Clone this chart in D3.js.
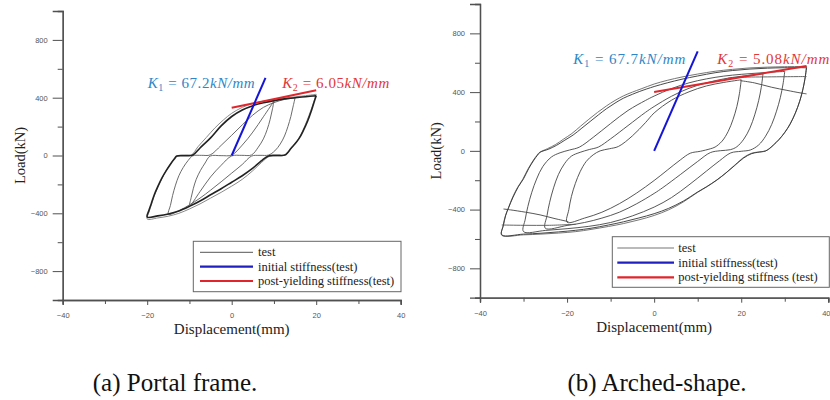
<!DOCTYPE html>
<html><head><meta charset="utf-8">
<script src="https://cdn.jsdelivr.net/npm/d3@7"></script>
<style>html,body{margin:0;padding:0;background:#fff;}svg{display:block;}</style>
</head><body>
<svg id="c" width="830" height="400"></svg>
<script>
// ---------- data ----------
const xTickValues = [-40, -20, 0, 20, 40];
const xMinorValues = [-30, -10, 10, 30];
const yTickValues = [-800, -400, 0, 400, 800];
const yMinorValues = [-1000, -600, -200, 200, 600, 1000];
const xLabel = "Displacement(mm)";
const yLabel = "Load(kN)";
const legendPortal = ["test", "initial stiffness(test)", "post-yielding stiffness(test)"];
const legendArched = ["test", "initial stiffness(test)", "post-yielding stiffness (test)"];
const captions = ["(a) Portal frame.", "(b) Arched-shape."];
const portalK = ["67.2", "6.05"];
const archedK = ["67.7", "5.08"];

// Portal frame hysteresis cycles [displacement mm, load kN]
const portalCycle20a = [[20,414],[19.4,360],[18.8,305],[18,240],[17,175],[16,120],[15,82],[14,48],[13.2,18],[12.6,3],[10.6,1],[8.7,-3],[7,-38],[5,-88],[2.5,-140],[0,-185],[-2.5,-230],[-5,-272],[-7.5,-315],[-10,-352],[-12.5,-384],[-15,-405],[-17.5,-418],[-20,-426],[-19.6,-380],[-19,-330],[-18.3,-270],[-17.5,-215],[-16.5,-155],[-15.5,-105],[-14.5,-60],[-13.6,-25],[-13,-4],[-11,-1],[-9.2,3],[-7.5,52],[-5,122],[-2.5,205],[0,270],[2.5,315],[5,345],[7.5,365],[10,380],[12.5,392],[15,400],[17.5,407],[20,414]];
const portalCycle20b = [[20,424],[19.4,368],[18.7,310],[17.8,240],[16.8,170],[15.8,115],[14.8,75],[13.8,40],[13,12],[12.3,0],[10.4,-2],[8.9,-6],[7,-50],[5,-105],[2.5,-165],[0,-212],[-2.5,-255],[-5,-295],[-7.5,-335],[-10,-370],[-12.5,-400],[-15,-420],[-17.5,-432],[-20,-440],[-19.5,-385],[-18.8,-320],[-18,-255],[-17,-190],[-16,-130],[-15,-80],[-14,-40],[-13.2,-12],[-12.6,-2],[-10.8,1],[-9.5,4],[-8,60],[-6,125],[-4,190],[-2,245],[0,292],[2.5,333],[5,360],[7.5,376],[10,388],[12.5,398],[15,406],[17.5,414],[20,424]];
const portalCycle15 = [[15,398],[14.5,335],[14,270],[13.3,200],[12.5,135],[11.5,80],[10.2,32],[8.7,3],[6.7,1],[4.7,-4],[2.5,-62],[0,-122],[-2.5,-182],[-5,-240],[-7.5,-295],[-10,-342],[-12.5,-382],[-15,-408],[-14.5,-345],[-14,-278],[-13.3,-205],[-12.5,-140],[-11.5,-84],[-10.3,-34],[-9.2,-2],[-7.1,1],[-5.1,4],[-2.5,70],[0,140],[2.5,212],[5,280],[7.5,333],[10,366],[12.5,388],[15,398]];
const portalCycle10 = [[10,376],[9.6,315],[9.1,250],[8.4,180],[7.5,115],[6.3,58],[4.7,4],[2.4,1],[0,-3],[-2.5,-68],[-5,-148],[-7.5,-250],[-10,-352],[-9.6,-292],[-9.1,-230],[-8.4,-165],[-7.4,-104],[-6.3,-52],[-5.1,-4],[-2.5,-1],[0,3],[2.5,72],[5,162],[7.5,268],[10,376]];
const portalK1 = [[0,0],[8,537.6]];
const portalK2 = [[0,330],[20,451]];

// Arched-shape hysteresis cycles
const archCycle35a = [[35,566],[34.6,485],[34.1,410],[33.4,335],[32.4,255],[31.2,180],[30,125],[28.6,75],[27.4,40],[26.3,12],[25.5,-2],[23.8,-10],[22.3,-20],[20.5,-50],[18.5,-100],[16.5,-150],[14.4,-198],[12,-245],[10,-280],[6.7,-342],[3.3,-392],[0,-428],[-3.5,-457],[-7,-483],[-10.5,-505],[-14.5,-527],[-18,-541],[-22,-552],[-26,-561],[-30,-567],[-35,-572],[-34.6,-505],[-34.1,-440],[-33.4,-385],[-32.4,-315],[-31.2,-245],[-30,-190],[-28.8,-120],[-27.6,-62],[-26.8,-30],[-26.2,-10],[-24.2,12],[-22.4,38],[-20.5,73],[-18.6,108],[-16.6,155],[-14.7,200],[-12.8,245],[-10.9,288],[-9,325],[-7.1,358],[-5,385],[-3.3,405],[0,438],[3,463],[6.4,488],[10,510],[14,532],[18,547],[22,557],[26,563],[30,566],[35,566]];
const archCycle35b = [[35,575],[34.7,500],[34.2,425],[33.5,345],[32.5,262],[31.3,188],[30.1,130],[28.8,80],[27.6,45],[26.5,15],[25.6,0],[24,-8],[22.5,-15],[20.7,-42],[18.7,-92],[16.7,-145],[14.6,-195],[12.2,-243],[10,-282],[6.7,-348],[3.3,-402],[0,-440],[-3.5,-470],[-7,-495],[-10.5,-515],[-14.5,-535],[-18,-550],[-22,-560],[-26,-567],[-30,-572],[-35,-575],[-34.7,-510],[-34.2,-445],[-33.5,-390],[-32.6,-322],[-31.4,-250],[-30.2,-195],[-29,-125],[-27.8,-66],[-27,-33],[-26.4,-12],[-24.5,15],[-22.7,42],[-20.8,80],[-18.9,118],[-16.9,168],[-15,215],[-13,262],[-11,305],[-9,343],[-7,375],[-5,400],[-3,422],[0,455],[3,480],[6.4,503],[10,523],[14,542],[18,555],[22,565],[26,570],[30,573],[35,575]];
const archCycle30 = [[30,541],[29.6,455],[29,365],[28.1,270],[27,180],[25.6,100],[24,40],[22.1,6],[20,-3],[17.6,-14],[15,-68],[12,-138],[8,-232],[4,-318],[0,-383],[-5,-443],[-10,-488],[-15,-514],[-20,-530],[-25,-542],[-30,-550],[-29.6,-465],[-29,-378],[-28.1,-282],[-27,-192],[-25.6,-108],[-23.6,-42],[-21.6,-13],[-19.4,6],[-17.2,25],[-14,92],[-10,186],[-6,275],[-2,343],[0,373],[4,424],[8,463],[12,490],[16,509],[20,521],[25,532],[30,541]];
const archCycle25 = [[25,525],[24.6,432],[24,342],[23.1,245],[22,155],[20.6,80],[19,28],[17.5,8],[15.2,1],[12.9,-12],[10,-72],[6,-162],[2,-250],[0,-290],[-4,-360],[-8,-418],[-12,-458],[-16,-488],[-20,-508],[-25,-527],[-24.6,-440],[-24,-350],[-23.1,-252],[-22,-162],[-20.6,-88],[-19,-36],[-17,-10],[-14.9,9],[-12.8,26],[-10,82],[-6,172],[-2,262],[0,302],[4,372],[8,426],[12,463],[16,490],[20,508],[25,525]];
const archCycle20 = [[20,484],[19.6,392],[19,302],[18.1,212],[17,132],[15.6,66],[14,26],[12.9,14],[10.6,-3],[8.3,-16],[6,-62],[3,-132],[0,-202],[-4,-287],[-8,-360],[-12,-418],[-16,-458],[-20,-486],[-19.6,-400],[-19,-310],[-18.1,-222],[-17,-142],[-15.6,-72],[-14,-27],[-12.4,0],[-10.3,14],[-8.2,30],[-5,102],[-2,192],[0,258],[4,345],[8,402],[12,442],[16,466],[20,484]];
const archTopDrop = [[19.8,478],[23,463],[27,433],[30.5,412],[33.5,395],[35,388]];
const archBottomDrop = [[-19.7,-482],[-23,-460],[-26.2,-436],[-29.5,-418],[-33,-402],[-34.6,-396]];
const archTopFlat = [[17,495],[20,501],[27,504],[35,506]];
const archBottomFlat = [[-18,-500],[-24,-507],[-30,-507],[-35,-505]];
const archK1 = [[0,0],[10,677]];
const archK2 = [[0,400],[35,578]];

// ---------- drawing ----------
const SERIF = "'Liberation Serif', 'Times New Roman', serif";
const SANS = "'Liberation Sans', Arial, sans-serif";
const svg = d3.select("#c");
svg.append("rect").attr("width", 830).attr("height", 400).attr("fill", "#fff");

const axisColor = "#505050";
const testColor = "#4a4a4a";
const blue = "#1515d8";
const red = "#e0262c";
const annBlue = "#2f86c6";
const annRed = "#e2363a";

function drawPanel(p) {
  const g = svg.append("g");
  const x = d3.scaleLinear().domain([-40, 40]).range([p.left, p.right]);
  const y = d3.scaleLinear().domain([-1000, 1000]).range([p.bottom, p.top]);

  const yMaj = g.append("g").attr("transform", `translate(${p.left},0)`)
    .call(d3.axisLeft(y).tickValues(yTickValues).tickSize(10).tickPadding(5).tickFormat(d3.format("d")));
  const yMin = g.append("g").attr("transform", `translate(${p.left},0)`)
    .call(d3.axisLeft(y).tickValues(yMinorValues).tickSize(5).tickFormat(""));
  const xMaj = g.append("g").attr("transform", `translate(0,${p.bottom})`)
    .call(d3.axisBottom(x).tickValues(xTickValues).tickSize(5).tickPadding(8).tickFormat(d3.format("d")));
  const xMin = g.append("g").attr("transform", `translate(0,${p.bottom})`)
    .call(d3.axisBottom(x).tickValues(xMinorValues).tickSize(4).tickFormat(""));
  [yMaj, yMin, xMaj, xMin].forEach(a => {
    a.select(".domain").attr("stroke", axisColor).attr("stroke-width", 1.3);
    a.selectAll(".tick line").attr("stroke", axisColor).attr("stroke-width", 1);
    a.selectAll(".tick text").attr("fill", "#555").style("font-family", SANS).attr("font-size", 7.5);
  });
  // keep the last x label inside the page
  xMaj.selectAll(".tick text").filter(d => x(d) + 6 > 830).attr("text-anchor", "end").attr("dx", (830 - p.right) + "px");

  const line = d3.line().x(d => x(d[0])).y(d => y(d[1])).curve(d3.curveCatmullRom.alpha(0.5));
  p.cycles.forEach(c => {
    g.append("path").attr("d", line(c.data)).attr("fill", "none")
      .attr("stroke", c.color || testColor).attr("stroke-width", c.w || 0.9)
      .attr("stroke-linejoin", "round");
  });
  const sl = d3.line().x(d => x(d[0])).y(d => y(d[1]));
  g.append("path").attr("d", sl(p.k2)).attr("stroke", red).attr("stroke-width", 2).attr("fill", "none");
  g.append("path").attr("d", sl(p.k1)).attr("stroke", blue).attr("stroke-width", 2).attr("fill", "none");

  function ann(xp, yp, sub, val, color, len) {
    const t = g.append("text").attr("x", xp).attr("y", yp).attr("fill", color)
      .style("font-family", SERIF).attr("font-size", 15)
      .attr("textLength", len).attr("lengthAdjust", "spacing");
    t.append("tspan").attr("font-style", "italic").text("K");
    t.append("tspan").attr("font-size", 10).attr("dy", 3).text(sub);
    t.append("tspan").attr("dy", -3).text(" = " + val);
    t.append("tspan").attr("font-style", "italic").text("kN/mm");
  }
  ann(p.ann1[0], p.ann1[1], "1", p.kv[0], annBlue, p.ann1[2]);
  ann(p.ann2[0], p.ann2[1], "2", p.kv[1], annRed, p.ann2[2]);

  g.append("text").attr("x", x(0)).attr("y", p.bottom + 34)
    .attr("text-anchor", "middle").style("font-family", SERIF).attr("font-size", 15)
    .attr("fill", "#222").text(xLabel);
  g.append("text").attr("transform", `translate(${p.ylabX},${(p.top + p.bottom) / 2}) rotate(-90)`)
    .attr("text-anchor", "middle").style("font-family", SERIF).attr("font-size", 14.5)
    .attr("fill", "#222").text(yLabel);

  const L = p.legend;
  g.append("rect").attr("x", L.x0).attr("y", L.y0).attr("width", L.x1 - L.x0).attr("height", L.y1 - L.y0)
    .attr("fill", "#fff").attr("stroke", "#666").attr("stroke-width", 1);
  const lc = [{c: "#777", w: 1.2}, {c: "#2020c0", w: 2.2}, {c: red, w: 2.2}];
  p.legendLabels.forEach((lab, i) => {
    const yy = L.rows[i];
    g.append("line").attr("x1", L.lx0).attr("x2", L.lx1).attr("y1", yy).attr("y2", yy)
      .attr("stroke", lc[i].c).attr("stroke-width", lc[i].w);
    g.append("text").attr("x", L.tx).attr("y", yy + 4).style("font-family", SERIF)
      .attr("font-size", 12.5).attr("fill", "#222").text(lab);
  });

  svg.append("text").attr("x", p.capX).attr("y", 391).attr("text-anchor", "middle")
    .style("font-family", SERIF).attr("font-size", 25).attr("fill", "#111").text(p.caption);
}

drawPanel({
  left: 62.7, right: 400.7, top: 11, bottom: 300,
  cycles: [
    {data: portalCycle20b, color: "#8a8a8a", w: 1},
    {data: portalCycle15, color: "#5a5a5a", w: 0.9},
    {data: portalCycle10, color: "#5a5a5a", w: 0.9},
    {data: portalCycle20a, color: "#222", w: 1.6}
  ],
  k1: portalK1, k2: portalK2, kv: portalK,
  ann1: [147.7, 88, 107], ann2: [282.3, 88, 107],
  ylabX: 25,
  legend: {x0: 193.3, x1: 401, y0: 241.3, y1: 291.7, lx0: 200, lx1: 253, tx: 258, rows: [252.3, 266.7, 281]},
  legendLabels: legendPortal,
  caption: captions[0], capX: 175
});

drawPanel({
  left: 480, right: 828.3, top: 4, bottom: 297.7,
  cycles: [
    {data: archCycle35b, color: "#666", w: 0.9},
    {data: archCycle35a, color: "#333", w: 0.9},
    {data: archCycle30, color: "#444", w: 0.9},
    {data: archCycle25, color: "#444", w: 0.9},
    {data: archCycle20, color: "#444", w: 0.9},
    {data: archTopDrop, color: "#444", w: 0.9},
    {data: archBottomDrop, color: "#444", w: 0.9},
    {data: archTopFlat, color: "#555", w: 0.9},
    {data: archBottomFlat, color: "#555", w: 0.9}
  ],
  k1: archK1, k2: archK2, kv: archedK,
  ann1: [573.3, 64, 112], ann2: [717.3, 64, 112],
  ylabX: 441,
  legend: {x0: 612.3, x1: 829.3, y0: 236.7, y1: 287.3, lx0: 617.3, lx1: 674, tx: 678.3, rows: [248, 262.7, 277.3]},
  legendLabels: legendArched,
  caption: captions[1], capX: 657
});
</script>
</body></html>
